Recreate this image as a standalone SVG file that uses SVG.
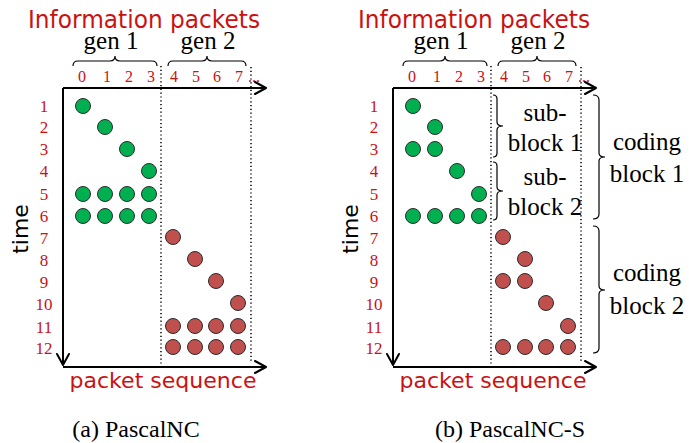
<svg xmlns="http://www.w3.org/2000/svg" width="689" height="443" viewBox="0 0 689 443">
<style>
.g{fill:#00b050;stroke:#2b2b2b;stroke-width:1}
.r{fill:#c0504d;stroke:#2b2b2b;stroke-width:1}
.ax{stroke:#000;stroke-width:2;fill:none}
.ah{stroke:#000;stroke-width:2;fill:none;stroke-linecap:round;stroke-linejoin:round}
.dot{stroke:#000;stroke-width:1.5;stroke-dasharray:1.2 2.6;fill:none}
.br{stroke:#000;stroke-width:1.2;fill:none}
.num{font-family:"Liberation Serif",serif;fill:#cc1111;text-anchor:middle}
.rn{font-size:17px}
.cn{font-size:16px}
.blk{font-family:"Liberation Serif",serif;fill:#000;text-anchor:middle;font-size:25px}
.cap{font-family:"Liberation Serif",serif;fill:#000;text-anchor:middle;font-size:24px}
.com{font-family:"DejaVu Sans",sans-serif;text-anchor:middle}
.red{fill:#cc1111}
</style>
<defs>
<g id="rowlabels">
<text class="num rn" x="44" y="112">1</text>
<text class="num rn" x="44" y="133">2</text>
<text class="num rn" x="44" y="155">3</text>
<text class="num rn" x="44" y="177">4</text>
<text class="num rn" x="44" y="200">5</text>
<text class="num rn" x="44" y="222">6</text>
<text class="num rn" x="44" y="244">7</text>
<text class="num rn" x="44" y="266">8</text>
<text class="num rn" x="44" y="288">9</text>
<text class="num rn" x="44" y="310">10</text>
<text class="num rn" x="44" y="333">11</text>
<text class="num rn" x="44" y="354">12</text>
</g>
<g id="header">
<text class="com red" x="144" y="28" font-size="24" textLength="232" lengthAdjust="spacingAndGlyphs">Information packets</text>
<text class="blk" x="111" y="49">gen 1</text>
<text class="blk" x="208" y="49">gen 2</text>
<path class="br" d="M73,66 Q73,61 78,61 L110,61 Q115,61 115,56 Q115,61 120,61 L152,61 Q157,61 157,66"/>
<path class="br" d="M168,66 Q168,61 173,61 L202,61 Q207,61 207,56 Q207,61 212,61 L241,61 Q246,61 246,66"/>
<text class="num cn" x="82" y="82">0</text>
<text class="num cn" x="107" y="82">1</text>
<text class="num cn" x="129" y="82">2</text>
<text class="num cn" x="151" y="82">3</text>
<text class="num cn" x="174" y="82">4</text>
<text class="num cn" x="196" y="82">5</text>
<text class="num cn" x="217" y="82">6</text>
<text class="num cn" x="239" y="82">7</text>
<text class="num cn" x="254" y="82" font-size="10">...</text>
</g>
<g id="axes">
<line class="dot" x1="161" y1="66" x2="161" y2="367"/>
<line class="dot" x1="251" y1="67" x2="251" y2="362"/>
<path class="ax" d="M63,88 L265,88"/>
<path class="ah" d="M255,82 L266,88 L255,94"/>
<path class="ax" d="M63,88 L63,364"/>
<path class="ah" d="M57,354 L63,365 L69,354"/>
<path class="ax" d="M63,367 L265,367"/>
<path class="ah" d="M255,361 L266,367 L255,373"/>
<text class="com" x="0" y="0" font-size="22" transform="translate(28,229) rotate(-90)">time</text>
<text class="com red" x="163" y="388" font-size="22" textLength="187" lengthAdjust="spacingAndGlyphs">packet sequence</text>
</g>
</defs>

<g id="panel-a">
<use href="#header"/>
<use href="#axes"/>
<use href="#rowlabels"/>
<g id="a-dots">
<circle class="g" cx="83" cy="106" r="7.5"/>
<circle class="g" cx="105" cy="127" r="7.5"/>
<circle class="g" cx="127" cy="149" r="7.5"/>
<circle class="g" cx="149" cy="171" r="7.5"/>
<circle class="g" cx="83" cy="194" r="7.5"/>
<circle class="g" cx="105" cy="194" r="7.5"/>
<circle class="g" cx="127" cy="194" r="7.5"/>
<circle class="g" cx="149" cy="194" r="7.5"/>
<circle class="g" cx="83" cy="216" r="7.5"/>
<circle class="g" cx="105" cy="216" r="7.5"/>
<circle class="g" cx="127" cy="216" r="7.5"/>
<circle class="g" cx="149" cy="216" r="7.5"/>
<circle class="r" cx="173" cy="237" r="7.5"/>
<circle class="r" cx="195" cy="259" r="7.5"/>
<circle class="r" cx="216" cy="281" r="7.5"/>
<circle class="r" cx="238" cy="303" r="7.5"/>
<circle class="r" cx="173" cy="326" r="7.5"/>
<circle class="r" cx="195" cy="326" r="7.5"/>
<circle class="r" cx="216" cy="326" r="7.5"/>
<circle class="r" cx="238" cy="326" r="7.5"/>
<circle class="r" cx="173" cy="347" r="7.5"/>
<circle class="r" cx="195" cy="347" r="7.5"/>
<circle class="r" cx="216" cy="347" r="7.5"/>
<circle class="r" cx="238" cy="347" r="7.5"/>
</g>
<text class="cap" x="136" y="437">(a) PascalNC</text>
</g>

<g id="panel-b">
<g transform="translate(330,0)">
<use href="#header"/>
<use href="#axes"/>
<use href="#rowlabels"/>
<g id="b-dots">
<circle class="g" cx="83" cy="106" r="7.5"/>
<circle class="g" cx="105" cy="127" r="7.5"/>
<circle class="g" cx="83" cy="149" r="7.5"/>
<circle class="g" cx="105" cy="149" r="7.5"/>
<circle class="g" cx="127" cy="171" r="7.5"/>
<circle class="g" cx="149" cy="194" r="7.5"/>
<circle class="g" cx="83" cy="216" r="7.5"/>
<circle class="g" cx="105" cy="216" r="7.5"/>
<circle class="g" cx="127" cy="216" r="7.5"/>
<circle class="g" cx="149" cy="216" r="7.5"/>
<circle class="r" cx="173" cy="237" r="7.5"/>
<circle class="r" cx="195" cy="259" r="7.5"/>
<circle class="r" cx="173" cy="281" r="7.5"/>
<circle class="r" cx="195" cy="281" r="7.5"/>
<circle class="r" cx="216" cy="303" r="7.5"/>
<circle class="r" cx="238" cy="326" r="7.5"/>
<circle class="r" cx="173" cy="347" r="7.5"/>
<circle class="r" cx="195" cy="347" r="7.5"/>
<circle class="r" cx="216" cy="347" r="7.5"/>
<circle class="r" cx="238" cy="347" r="7.5"/>
</g>
</g>
<g id="sub-block-1">
<path class="br" d="M493,95 Q497,95 497,99 L497,122 Q497,126 503,126 Q497,126 497,130 L497,153 Q497,157 493,157"/>
<text class="blk" x="545" y="121">sub-</text>
<text class="blk" x="545" y="151">block 1</text>
</g>
<g id="sub-block-2">
<path class="br" d="M493,162 Q497,162 497,166 L497,187 Q497,191 503,191 Q497,191 497,195 L497,216 Q497,220 493,220"/>
<text class="blk" x="545" y="185">sub-</text>
<text class="blk" x="545" y="215">block 2</text>
</g>
<g id="coding-block-1">
<path class="br" d="M593,95 Q599,95 599,100 L599,153 Q599,157 605,157 Q599,157 599,161 L599,214 Q599,219 593,219"/>
<text class="blk" x="647" y="150">coding</text>
<text class="blk" x="647" y="182">block 1</text>
</g>
<g id="coding-block-2">
<path class="br" d="M593,226 Q599,226 599,231 L599,286 Q599,290 605,290 Q599,290 599,294 L599,348 Q599,353 593,353"/>
<text class="blk" x="647" y="281">coding</text>
<text class="blk" x="647" y="314">block 2</text>
</g>
<text class="cap" x="510" y="437">(b) PascalNC-S</text>
</g>
</svg>
